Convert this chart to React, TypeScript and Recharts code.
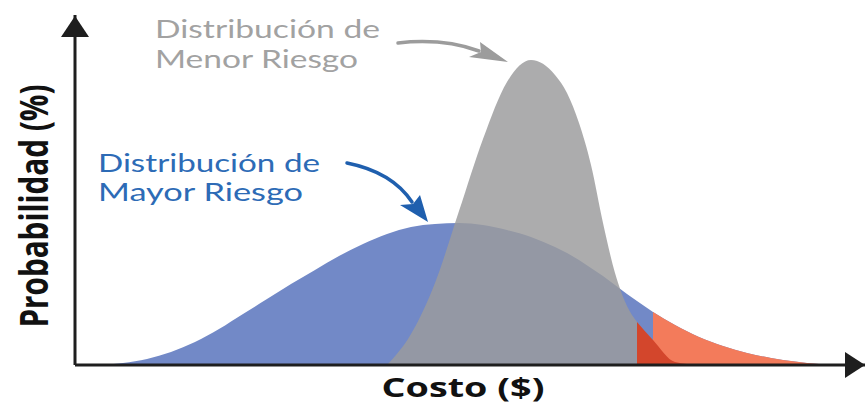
import React from "react";
import {
  ComposedChart,
  Area,
  XAxis,
  YAxis,
  ReferenceDot,
  ReferenceLine,
  Customized,
} from "recharts";

// Cost axis positions (arbitrary cost units) at which both curves are sampled
const COST = [
  3, 6, 9, 12, 15, 18, 21, 24, 27, 30, 33, 36, 39, 42, 45, 48, 51, 54, 57, 60,
  61.5, 63, 64.5, 66, 67.5, 69, 70.25, 72.25, 75, 78, 81, 84, 87, 90, 93, 96,
];

// Wide, higher-risk distribution (probability %)
const MAYOR_RIESGO = [
  0, 0.2, 0.6, 1.3, 2.3, 3.6, 5.1, 6.6, 8.1, 9.5, 10.9, 12.1, 13.1, 13.8, 14.1,
  14.2, 14.0, 13.5, 12.8, 11.8, 11.2, 10.5, 9.7, 8.9, 8.0, 7.1, 6.4, 5.3, 4.0,
  2.8, 1.9, 1.2, 0.7, 0.35, 0.1, 0,
];

// Narrow, lower-risk distribution (probability %), null where it is absent
const MENOR_RIESGO: (number | null)[] = [
  null, null, null, null, null, null, null, null, null, null, null, null, 0,
  3.1, 8.2, 15.4, 22.6, 28.3, 30.5, 29.0, 27.2, 24.2, 20.0, 14.2, 9.2, 5.9, 4.3,
  2.5, 0.3, 0, null, null, null, null, null, null,
];

// Cost thresholds beyond which each tail is highlighted
const UMBRAL_MENOR = 70.25;
const UMBRAL_MAYOR = 72.25;

const X_MAX = 98.75;
const Y_MAX = 35;

const COLORS = {
  blue: "#7289c7",
  gray: "#9b9b9c",
  orange: "#f37b5b",
  darkRed: "#d3462c",
  axis: "#1e1e1e",
  blueText: "#2d6bb6",
  grayText: "#a2a2a2",
  grayArrow: "#9c9c9c",
  blueArrow: "#1f5fae",
};

const rows = COST.map((x, i) => {
  const mayor = MAYOR_RIESGO[i];
  const menor = MENOR_RIESGO[i];
  return {
    x,
    mayor,
    menor,
    colaMayor: x >= UMBRAL_MAYOR ? mayor : null,
    colaMenor: x >= UMBRAL_MENOR && menor != null ? menor : null,
  };
});

const FONT = "'Open Sans', 'DejaVu Sans', sans-serif";
const NOTE_FONT = "Lato, 'Open Sans', sans-serif";

const UpArrow = (props: any) => {
  const { cx, cy } = props;
  return (
    <path
      d={`M${cx},${cy + 1} L${cx + 14},${cy + 22} L${cx - 14},${cy + 22} Z`}
      fill={COLORS.axis}
    />
  );
};

const RightArrow = (props: any) => {
  const { cx, cy } = props;
  return (
    <path
      d={`M${cx},${cy} L${cx - 20},${cy - 13} L${cx - 20},${cy + 13} Z`}
      fill={COLORS.axis}
    />
  );
};

// Curved pointer to the peak of the narrow curve
const GrayPointer = (props: any) => {
  const { cx, cy } = props;
  const p = (dx: number, dy: number) => `${cx + dx},${cy + dy}`;
  return (
    <g>
      <path
        d={`M${p(-133, -17)} Q${p(-88, -22)} ${p(-52, -9)}`}
        stroke={COLORS.grayArrow}
        strokeWidth={3.5}
        fill="none"
        strokeLinecap="round"
      />
      <path
        d={`M${p(-23, 2)} L${p(-51, -18)} L${p(-50, -8)} L${p(-62, -3)} Z`}
        fill={COLORS.grayArrow}
      />
    </g>
  );
};

// Curved pointer to the peak of the wide curve
const BluePointer = (props: any) => {
  const { cx, cy } = props;
  const p = (dx: number, dy: number) => `${cx + dx},${cy + dy}`;
  return (
    <g>
      <path
        d={`M${p(-112, -60)} Q${p(-67, -51)} ${p(-47, -21)}`}
        stroke={COLORS.blueArrow}
        strokeWidth={3.5}
        fill="none"
        strokeLinecap="round"
      />
      <path
        d={`M${p(-31, -1)} L${p(-39, -28)} L${p(-46, -19)} L${p(-59, -18)} Z`}
        fill={COLORS.blueArrow}
      />
    </g>
  );
};

type NoteProps = { x: number; y: number; text: string; width: number; color: string };

const Note = ({ x, y, text, width, color }: NoteProps) => (
  <text
    x={x}
    y={y}
    fontFamily={NOTE_FONT}
    fontSize={25}
    fill={color}
    textLength={width}
    lengthAdjust="spacingAndGlyphs"
  >
    {text}
  </text>
);

const Texts = () => (
  <g fontFamily={FONT}>
    <Note x={155} y={38} text="Distribución de" width={225} color={COLORS.grayText} />
    <Note x={155} y={68} text="Menor Riesgo" width={203} color={COLORS.grayText} />
    <Note x={98} y={172} text="Distribución de" width={222} color={COLORS.blueText} />
    <Note x={98} y={201} text="Mayor Riesgo" width={205} color={COLORS.blueText} />
    <text
      x={463}
      y={397}
      fontSize={27}
      fontWeight="bold"
      textAnchor="middle"
      textLength={163}
      lengthAdjust="spacingAndGlyphs"
      fill="#111"
    >
      Costo ($)
    </text>
    <text
      transform="translate(48,206) rotate(-90)"
      fontSize={39}
      fontWeight="bold"
      textAnchor="middle"
      textLength={243}
      lengthAdjust="spacingAndGlyphs"
      fill="#111"
    >
      Probabilidad (%)
    </text>
  </g>
);

const peakMenor = Math.max(...MENOR_RIESGO.map((v) => (v == null ? 0 : v)));
const xPeakMenor = COST[MENOR_RIESGO.indexOf(peakMenor)];
const peakMayor = Math.max(...MAYOR_RIESGO);
const xPeakMayor = COST[MAYOR_RIESGO.indexOf(peakMayor)];

const areaProps = {
  type: "monotone" as const,
  stroke: "none",
  isAnimationActive: false,
  dot: false,
  activeDot: false,
};

export default function App() {
  return (
    <div style={{ position: "absolute", left: 0, top: 0, background: "#fff" }}>
      <ComposedChart
        width={867}
        height={406}
        data={rows}
        margin={{ top: 15, right: 2, bottom: 41, left: 75 }}
      >
        <XAxis dataKey="x" type="number" domain={[0, X_MAX]} hide />
        <YAxis type="number" domain={[0, Y_MAX]} hide />
        <Area dataKey="mayor" fill={COLORS.blue} fillOpacity={1} {...areaProps} />
        <Area dataKey="menor" fill={COLORS.gray} fillOpacity={0.83} {...areaProps} />
        <Area dataKey="colaMayor" fill={COLORS.orange} fillOpacity={1} {...areaProps} />
        <Area dataKey="colaMenor" fill={COLORS.darkRed} fillOpacity={1} {...areaProps} />
        <ReferenceLine y={0} stroke={COLORS.axis} strokeWidth={3} ifOverflow="visible" />
        <ReferenceLine x={0} stroke={COLORS.axis} strokeWidth={3} ifOverflow="visible" />
        <ReferenceDot x={0} y={Y_MAX} ifOverflow="visible" shape={<UpArrow />} />
        <ReferenceDot x={X_MAX} y={0} ifOverflow="visible" shape={<RightArrow />} />
        <ReferenceDot
          x={xPeakMenor}
          y={peakMenor}
          ifOverflow="visible"
          shape={<GrayPointer />}
        />
        <ReferenceDot
          x={xPeakMayor}
          y={peakMayor}
          ifOverflow="visible"
          shape={<BluePointer />}
        />
        <Customized component={<Texts />} />
      </ComposedChart>
    </div>
  );
}
